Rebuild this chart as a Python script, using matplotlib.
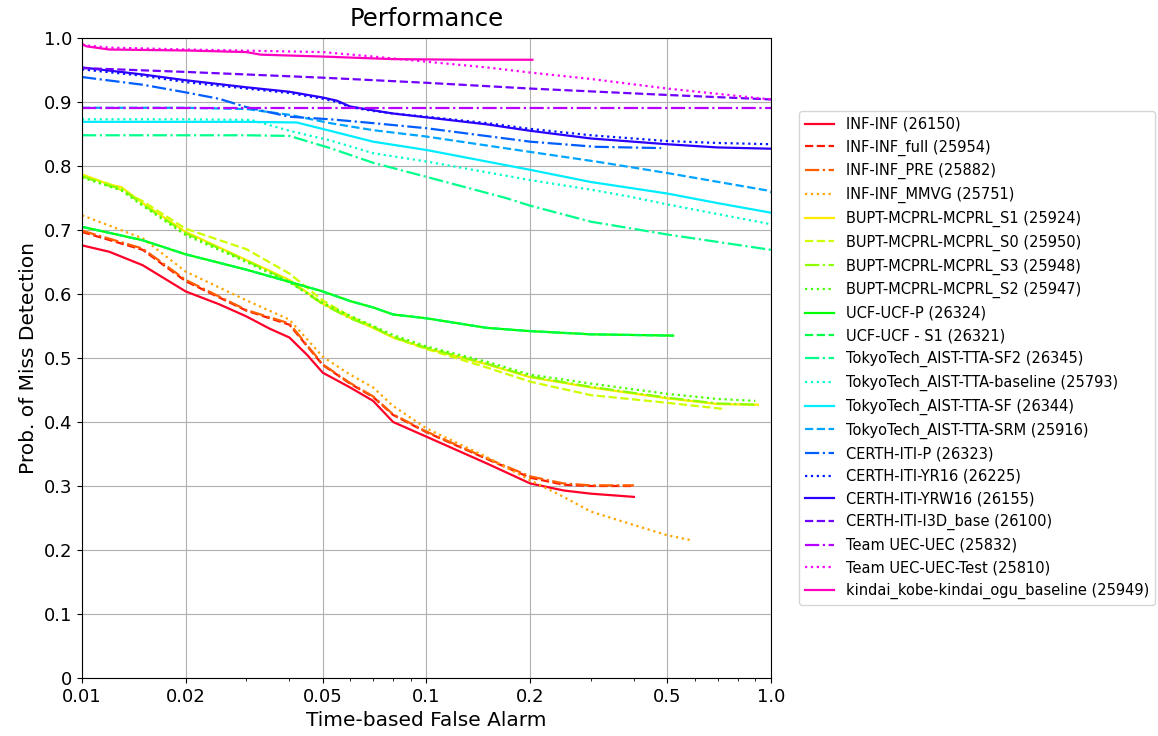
import numpy as np
import matplotlib
matplotlib.use("Agg")
import matplotlib.pyplot as plt
from matplotlib.ticker import NullFormatter

# ---------------- data ----------------
labels = [
    "INF-INF (26150)", "INF-INF_full (25954)", "INF-INF_PRE (25882)", "INF-INF_MMVG (25751)",
    "BUPT-MCPRL-MCPRL_S1 (25924)", "BUPT-MCPRL-MCPRL_S0 (25950)", "BUPT-MCPRL-MCPRL_S3 (25948)",
    "BUPT-MCPRL-MCPRL_S2 (25947)", "UCF-UCF-P (26324)", "UCF-UCF - S1 (26321)",
    "TokyoTech_AIST-TTA-SF2 (26345)", "TokyoTech_AIST-TTA-baseline (25793)",
    "TokyoTech_AIST-TTA-SF (26344)", "TokyoTech_AIST-TTA-SRM (25916)", "CERTH-ITI-P (26323)",
    "CERTH-ITI-YR16 (26225)", "CERTH-ITI-YRW16 (26155)", "CERTH-ITI-I3D_base (26100)",
    "Team UEC-UEC (25832)", "Team UEC-UEC-Test (25810)", "kindai_kobe-kindai_ogu_baseline (25949)",
]

x_inf = [0.01, 0.012, 0.015, 0.02, 0.025, 0.03, 0.035, 0.04, 0.045, 0.05, 0.06, 0.07, 0.08, 0.1, 0.15, 0.2, 0.25, 0.3, 0.4]
y_inf = [0.676, 0.666, 0.645, 0.604, 0.584, 0.565, 0.546, 0.532, 0.505, 0.477, 0.454, 0.433, 0.400, 0.377, 0.335, 0.304, 0.293, 0.288, 0.283]

x_full = [0.01, 0.015, 0.02, 0.03, 0.04, 0.05, 0.06, 0.07, 0.08, 0.1, 0.15, 0.2, 0.25, 0.3, 0.4]
y_full = [0.697, 0.669, 0.620, 0.574, 0.552, 0.489, 0.460, 0.439, 0.411, 0.384, 0.342, 0.313, 0.302, 0.300, 0.300]

x_pre = [0.01, 0.015, 0.02, 0.03, 0.04, 0.05, 0.06, 0.07, 0.08, 0.1, 0.15, 0.2, 0.25, 0.3, 0.4]
y_pre = [0.699, 0.671, 0.622, 0.575, 0.554, 0.490, 0.461, 0.440, 0.412, 0.385, 0.343, 0.315, 0.304, 0.301, 0.301]

x_mmvg = [0.01, 0.015, 0.02, 0.03, 0.04, 0.05, 0.06, 0.07, 0.08, 0.1, 0.15, 0.2, 0.25, 0.3, 0.4, 0.5, 0.59]
y_mmvg = [0.723, 0.687, 0.635, 0.590, 0.560, 0.502, 0.474, 0.454, 0.425, 0.390, 0.345, 0.309, 0.283, 0.260, 0.239, 0.223, 0.215]

x_s1 = [0.01, 0.012, 0.013, 0.015, 0.02, 0.03, 0.04, 0.05, 0.06, 0.07, 0.08, 0.1, 0.15, 0.2, 0.3, 0.5, 0.7, 0.916]
y_s1 = [0.787, 0.771, 0.767, 0.742, 0.697, 0.653, 0.622, 0.585, 0.563, 0.547, 0.532, 0.515, 0.490, 0.470, 0.454, 0.437, 0.428, 0.427]

x_s0 = [0.01, 0.012, 0.015, 0.02, 0.03, 0.04, 0.05, 0.06, 0.07, 0.08, 0.1, 0.15, 0.2, 0.3, 0.5, 0.74]
y_s0 = [0.785, 0.772, 0.745, 0.702, 0.670, 0.632, 0.590, 0.565, 0.549, 0.532, 0.514, 0.485, 0.463, 0.442, 0.430, 0.420]

x_s3 = [0.01, 0.012, 0.013, 0.015, 0.02, 0.03, 0.04, 0.05, 0.06, 0.07, 0.08, 0.1, 0.15, 0.2, 0.3, 0.5, 0.7, 0.916]
y_s3 = [0.784, 0.769, 0.765, 0.740, 0.695, 0.652, 0.620, 0.584, 0.562, 0.548, 0.533, 0.516, 0.491, 0.471, 0.455, 0.438, 0.429, 0.427]

x_s2 = [0.01, 0.012, 0.013, 0.015, 0.02, 0.03, 0.04, 0.05, 0.06, 0.07, 0.08, 0.1, 0.15, 0.2, 0.3, 0.5, 0.7, 0.9]
y_s2 = [0.782, 0.768, 0.762, 0.738, 0.692, 0.650, 0.618, 0.586, 0.566, 0.550, 0.536, 0.518, 0.494, 0.474, 0.460, 0.444, 0.436, 0.433]

x_ucfp = [0.01, 0.015, 0.02, 0.03, 0.04, 0.05, 0.06, 0.07, 0.08, 0.1, 0.15, 0.2, 0.3, 0.52]
y_ucfp = [0.705, 0.684, 0.662, 0.638, 0.619, 0.604, 0.589, 0.579, 0.568, 0.562, 0.547, 0.542, 0.537, 0.535]

x_ucfs1 = [0.01, 0.015, 0.02, 0.03, 0.04, 0.05, 0.06, 0.07, 0.08, 0.1, 0.15, 0.2, 0.3, 0.52]
y_ucfs1 = [0.705, 0.684, 0.662, 0.638, 0.619, 0.604, 0.589, 0.579, 0.568, 0.562, 0.547, 0.542, 0.537, 0.535]

x_sf2 = [0.01, 0.02, 0.03, 0.04, 0.0525, 0.07, 0.1, 0.17, 0.2, 0.3, 0.5, 1.0]
y_sf2 = [0.848, 0.848, 0.848, 0.847, 0.828, 0.805, 0.783, 0.750, 0.738, 0.713, 0.693, 0.669]

x_base = [0.01, 0.02, 0.031, 0.04, 0.0525, 0.07, 0.1, 0.2, 0.3, 0.39, 0.5, 1.0]
y_base = [0.873, 0.873, 0.872, 0.855, 0.840, 0.820, 0.807, 0.778, 0.763, 0.752, 0.740, 0.709]

x_sf = [0.01, 0.02, 0.03, 0.042, 0.0525, 0.07, 0.1, 0.2, 0.3, 0.5, 0.7, 1.0]
y_sf = [0.869, 0.869, 0.869, 0.868, 0.855, 0.838, 0.825, 0.794, 0.775, 0.757, 0.742, 0.727]

x_srm = [0.01, 0.02, 0.03, 0.04, 0.0525, 0.07, 0.1, 0.2, 0.31, 0.5, 0.97, 1.0]
y_srm = [0.891, 0.891, 0.889, 0.880, 0.867, 0.856, 0.846, 0.822, 0.807, 0.789, 0.762, 0.759]

x_cp = [0.01, 0.015, 0.02, 0.025, 0.03, 0.04, 0.0525, 0.07, 0.1, 0.2, 0.31, 0.48]
y_cp = [0.939, 0.927, 0.915, 0.905, 0.892, 0.877, 0.873, 0.867, 0.859, 0.838, 0.830, 0.828]

x_yr16 = [0.01, 0.015, 0.02, 0.03, 0.04, 0.05, 0.055, 0.06, 0.07, 0.08, 0.1, 0.15, 0.2, 0.3, 0.5, 0.7, 1.0]
y_yr16 = [0.951, 0.941, 0.931, 0.921, 0.914, 0.905, 0.900, 0.892, 0.886, 0.882, 0.877, 0.867, 0.858, 0.848, 0.839, 0.836, 0.834]

x_yrw16 = [0.01, 0.015, 0.02, 0.03, 0.04, 0.05, 0.055, 0.06, 0.07, 0.08, 0.1, 0.15, 0.2, 0.3, 0.5, 0.7, 1.0]
y_yrw16 = [0.954, 0.943, 0.934, 0.923, 0.916, 0.907, 0.902, 0.893, 0.887, 0.882, 0.876, 0.865, 0.855, 0.843, 0.834, 0.829, 0.827]

x_i3d = [0.01, 0.02, 0.05, 0.1, 0.2, 0.5, 1.0]
y_i3d = [0.953, 0.947, 0.938, 0.930, 0.921, 0.911, 0.904]

x_uec = [0.01, 1.0]
y_uec = [0.890, 0.890]

x_uect = [0.01, 0.012, 0.02, 0.05, 0.07, 0.1, 0.15, 0.2, 0.3, 0.5, 1.0]
y_uect = [0.989, 0.985, 0.982, 0.978, 0.971, 0.963, 0.954, 0.946, 0.936, 0.921, 0.904]

x_kindai = [0.01, 0.0103, 0.012, 0.02, 0.03, 0.033, 0.05, 0.08, 0.13, 0.203]
y_kindai = [0.991, 0.987, 0.982, 0.9805, 0.978, 0.974, 0.971, 0.967, 0.966, 0.966]

xs = [x_inf, x_full, x_pre, x_mmvg, x_s1, x_s0, x_s3, x_s2, x_ucfp, x_ucfs1, x_sf2, x_base,
      x_sf, x_srm, x_cp, x_yr16, x_yrw16, x_i3d, x_uec, x_uect, x_kindai]
ys = [y_inf, y_full, y_pre, y_mmvg, y_s1, y_s0, y_s3, y_s2, y_ucfp, y_ucfs1, y_sf2, y_base,
      y_sf, y_srm, y_cp, y_yr16, y_yrw16, y_i3d, y_uec, y_uect, y_kindai]

xticks = [0.01, 0.02, 0.05, 0.1, 0.2, 0.5, 1.0]
xticklabels = ["0.01", "0.02", "0.05", "0.1", "0.2", "0.5", "1.0"]
yticks = [0, 0.1, 0.2, 0.3, 0.4, 0.5, 0.6, 0.7, 0.8, 0.9, 1.0]
yticklabels = ["0", "0.1", "0.2", "0.3", "0.4", "0.5", "0.6", "0.7", "0.8", "0.9", "1.0"]

# ---------------- plot ----------------
fig = plt.figure(figsize=(11.58, 7.36), dpi=100)
ax = fig.add_axes([82 / 1158, 58 / 736, 689 / 1158, 640 / 736])

colors = plt.cm.gist_rainbow(np.linspace(0, 1, len(labels)))
styles = ["-", "--", "-.", ":"]
for i, (lab, x, y) in enumerate(zip(labels, xs, ys)):
    ax.plot(x, y, color=colors[i], linestyle=styles[i % 4], linewidth=1.6, label=lab)

ax.set_xscale("log")
ax.set_xlim(0.01, 1.0)
ax.set_ylim(0, 1.0)
ax.set_xticks(xticks)
ax.set_xticklabels(xticklabels)
ax.xaxis.set_minor_formatter(NullFormatter())
ax.set_yticks(yticks)
ax.set_yticklabels(yticklabels)
ax.tick_params(labelsize=13)
ax.grid(True, which="major")
ax.set_xlabel("Time-based False Alarm", fontsize=14.5)
ax.set_ylabel("Prob. of Miss Detection", fontsize=14.5)
ax.set_title("Performance", fontsize=17.5, pad=9)
ax.legend(loc="center left", bbox_to_anchor=(1.03, 0.5), fontsize=10.5,
          labelspacing=0.52)

fig.savefig("out.png", dpi=100)
